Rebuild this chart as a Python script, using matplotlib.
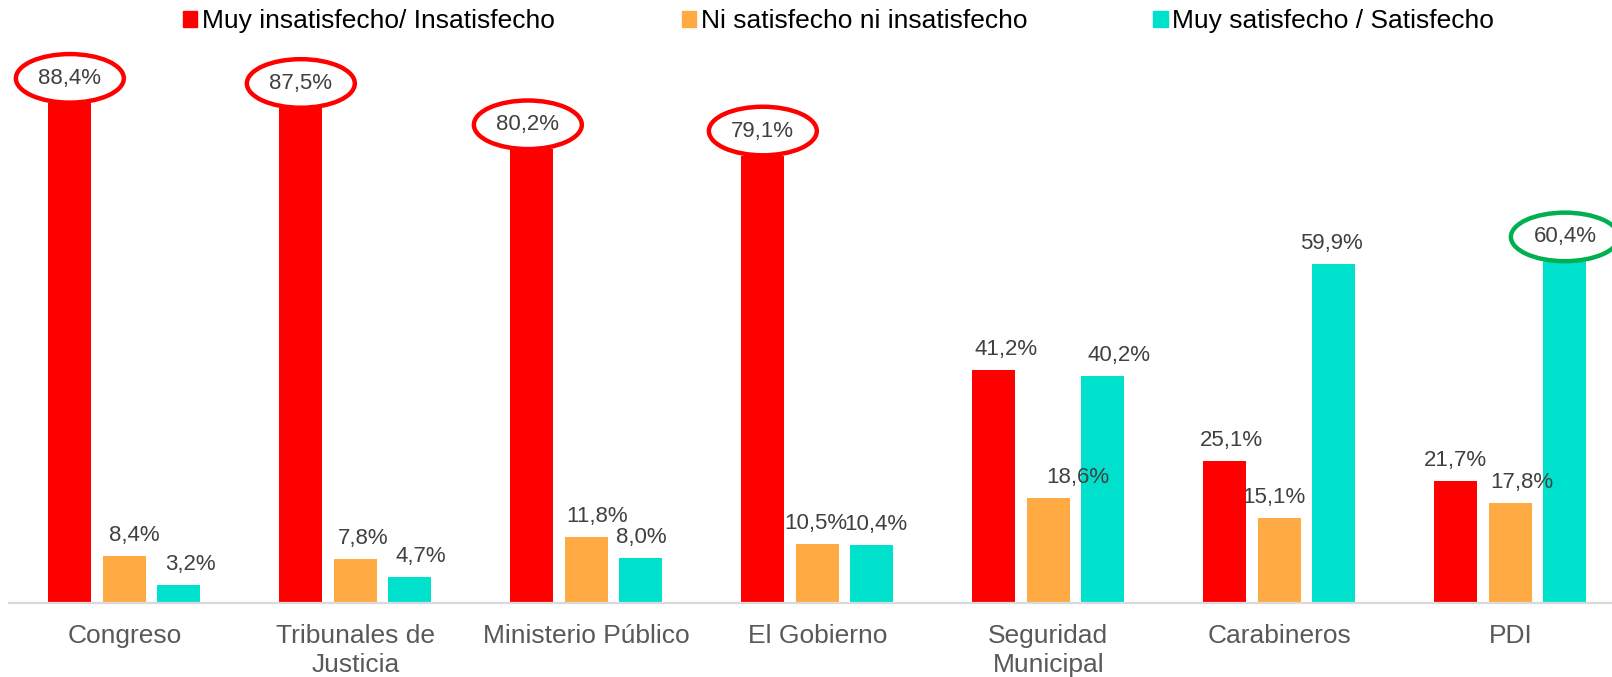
import matplotlib
matplotlib.use("Agg")
import matplotlib.pyplot as plt
from matplotlib.patches import Patch

plt.rcParams['font.family'] = ['Liberation Sans', 'DejaVu Sans']

categories = ['Congreso', 'Tribunales de\nJusticia', 'Ministerio Público', 'El Gobierno',
              'Seguridad\nMunicipal', 'Carabineros', 'PDI']
series_names = ['Muy insatisfecho/ Insatisfecho', 'Ni satisfecho ni insatisfecho',
                'Muy satisfecho / Satisfecho']
insatisfecho = [88.4, 87.5, 80.2, 79.1, 41.2, 25.1, 21.7]
neutral = [8.4, 7.8, 11.8, 10.5, 18.6, 15.1, 17.8]
satisfecho = [3.2, 4.7, 8.0, 10.4, 40.2, 59.9, 60.4]

colors = ['#FF0000', '#FFAA42', '#00E1CD']
# labels circled in the original: (series, category) -> ring colour
rings = {(0, 0): '#FF0000', (0, 1): '#FF0000', (0, 2): '#FF0000', (0, 3): '#FF0000',
         (2, 6): '#00B050'}
# small horizontal nudges of the value labels (pixels)
nudge = [[0, 0, -4, 0, 12, 7, 0],
         [10, 8, 11, -2, 29, -5, 11],
         [12, 11, 0, 4, 16, -2, 0]]

fig = plt.figure(figsize=(16.12, 6.77), dpi=100)
ax = fig.add_axes([0.0055, 0.1086, 0.9945, 0.7947])

values = [insatisfecho, neutral, satisfecho]
pitch = 0.236
bw = 0.186
for j, vals in enumerate(values):
    xs = [i + (j - 1) * pitch for i in range(len(categories))]
    ax.bar(xs, vals, width=bw, color=colors[j], label=series_names[j])
    for i, (x, v) in enumerate(zip(xs, vals)):
        txt = f'{v:.1f}%'.replace('.', ',')
        kw = {}
        dy = 10
        if (j, i) in rings:
            kw['bbox'] = dict(boxstyle='ellipse,pad=0.3', fc='none',
                              ec=rings[(j, i)], lw=3.2)
            dy = 14
        ax.annotate(txt, (x, v), xytext=(nudge[j][i], dy), textcoords='offset pixels',
                    ha='center', va='bottom', fontsize=16, color='#404040',
                    annotation_clip=False, **kw)

ax.set_xlim(-0.5, 6.44)
ax.set_ylim(0, 95)
ax.set_xticks(range(len(categories)))
ax.set_xticklabels(categories, fontsize=19, color='#595959', linespacing=1.26)
ax.tick_params(axis='x', length=0, pad=15)
ax.set_yticks([])
for s in ['top', 'right', 'left']:
    ax.spines[s].set_visible(False)
ax.spines['bottom'].set_color('#D9D9D9')
ax.spines['bottom'].set_linewidth(1.6)

for j, xpos in enumerate([0.1135, 0.423, 0.7153]):
    fig.legend(handles=[Patch(color=colors[j], label=series_names[j])],
               loc='center left', bbox_to_anchor=(xpos, 0.969), frameon=False,
               fontsize=19, handlelength=0.55, handleheight=0.55,
               handletextpad=0.18, borderpad=0, borderaxespad=0)

fig.savefig('out.png', dpi=100)
